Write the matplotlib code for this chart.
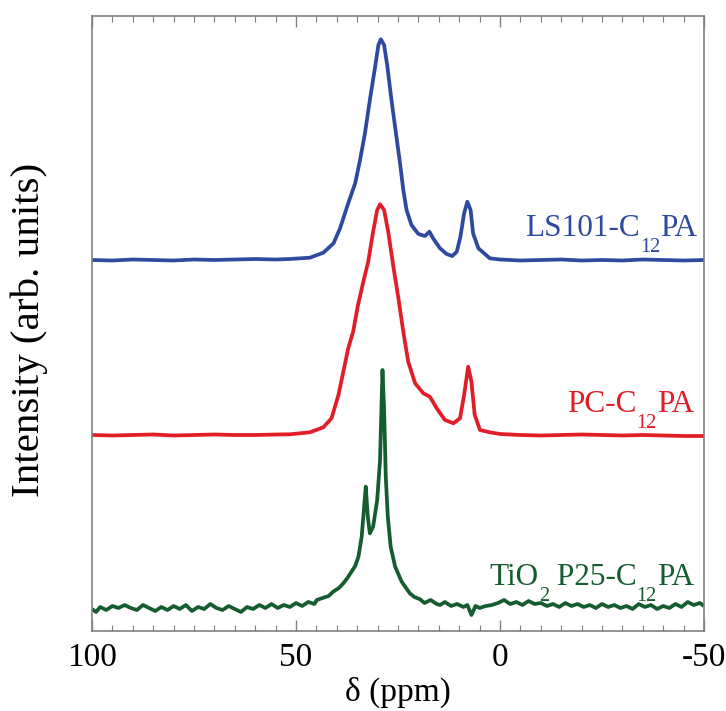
import matplotlib
matplotlib.use("Agg")
import matplotlib.pyplot as plt
from matplotlib.ticker import MultipleLocator
from matplotlib.transforms import IdentityTransform

plt.rcParams['font.family'] = ['Liberation Serif', 'DejaVu Serif']
plt.rcParams['axes.unicode_minus'] = False

# ---- data (chemical shift in ppm, intensity in arb. units) ----
blue_delta = [100, 95, 90, 85, 80, 75, 70, 65, 60, 55, 51.5, 46.6, 43.3, 40.8, 39.2, 37.2,
              35.5, 34.3, 33.1, 31.9, 30.6, 29.8, 29.2, 28.4, 27.6, 26.6, 25.5, 24.5, 23.7,
              22.9, 21.7, 20.0, 18.4, 17.3, 16.4, 14.7, 13.1, 11.7, 10.6, 9.7, 8.8, 8.0, 7.2,
              6.6, 5.3, 2.5, 0, -5, -10, -15, -20, -25, -30, -35, -40, -45, -50]
blue_int = [0, -0.5, 0.5, 0, -0.5, 0.5, 0, 0.5, 1, 0.5, 1, 2.3, 7.3, 16.7, 31.7, 56.7,
            76.7, 100, 126.7, 160, 193.3, 215, 220.7, 215, 193.3, 160, 126.7, 96.7, 70,
            50, 35, 26, 24, 28.3, 21.7, 11.7, 6, 4, 8.3, 23.3, 46.7, 58.3, 50,
            26.7, 11.7, 1.7, 0.5, -0.5, 0, 0.5, -0.5, 0, -0.5, 0.5, 0, -0.5, 0]

red_delta = [100, 95, 90, 85, 80, 75, 70, 65, 60, 55, 51.5, 46.6, 43.3, 41.3, 39.6, 38.4,
             37.2, 36.0, 34.8, 33.5, 32.3, 31.1, 30.1, 29.4, 28.4, 27.4, 26.2, 24.9, 23.7,
             22.5, 20.8, 18.8, 17.2, 15.5, 13.5, 11.4, 9.8, 8.8, 7.8, 7.0, 6.2, 4.9, 2.5,
             0, -5, -10, -15, -20, -25, -30, -35, -40, -45, -50]
red_int = [0, -0.5, 0, 0.5, -0.5, 0, 0.5, 0, 0, 0.5, 0.7, 2.7, 7.7, 16.7, 40, 63.3,
           86.7, 103.3, 130, 153.3, 173.3, 203.3, 225, 230.7, 225, 203.3, 170, 136.7, 103.3,
           73.3, 51.7, 41.7, 38.3, 26.7, 15, 11.7, 16.7, 40, 68.3, 53.3, 20, 5, 2.7,
           1, 0, -0.5, 0, 0.5, 0, -0.5, 0, -0.5, -1, -1]

green_delta = [100, 99, 98, 96.5, 95, 93.5, 92, 90.5, 89, 87.5, 86, 84.5, 83, 81.5, 80, 78.5,
               77, 75.5, 74, 72.5, 71, 69.5, 68, 66.5, 65, 63.5, 62, 60.5, 59, 57.5, 56, 54.5,
               53, 51.5, 50, 48.5, 47, 45.5, 44.9, 43.5, 42, 40.9, 39.5, 38.4, 37.4, 36.4,
               35.5, 34.7, 33.9, 33.3, 32.9, 32.4, 31.9, 31.1, 30.1, 29.4, 29.0, 28.8, 28.4,
               28.0, 27.5, 26.8, 25.7, 24.1, 22.1, 21, 19.6, 18.5, 17, 15.5, 14.7, 13.5, 12,
               10.5, 9, 8, 7, 6, 5, 3.5, 2, 0.5, -1, -2.5, -4, -5.5, -7, -8.5, -10, -11.5,
               -13, -14.5, -16, -17.5, -19, -20.5, -22, -23.5, -25, -26.5, -28, -29.5, -31,
               -32.5, -34, -35.5, -37, -38.5, -40, -41.5, -43, -44.5, -46, -47.5, -49, -50]
green_int = [-1, -4, 1, -2, 2, 0, 3, 0, -2, 3, 0, -3, 1, -2, 2, -1,
             3, -3, 1, -1, 4, 0, -2, 2, -1, -4, 1, -1, 3, 0, 4, 0,
             3, 1, 5, 2, 6, 4, 8, 10, 12, 16.3, 20, 24.7, 30, 36.3,
             42, 51.3, 71.3, 101.3, 121.3, 91.3, 74.7, 81.3, 108, 148, 208, 238, 198,
             131.3, 91.3, 61.3, 41.3, 26.3, 14.7, 11, 8.7, 5, 8, 4, 3, 6, 2,
             4, 1, 3, -7, 2, 0, 2, 3, 5, 8, 4, 6, 3, 7, 4, 5, 2,
             4, 1, 5, 2, 4, 1, 3, 0, 4, 1, 3, 0, 2,
             -1, 4, 1, 3, -1, 2, 0, 4, 1, 6, 3, 5, 2]

# label pieces: (text, is_subscript)
label_blue = [('LS101-C', False), ('12', True), ('PA', False)]
label_red = [('PC-C', False), ('12', True), ('PA', False)]
label_green = [('TiO', False), ('2', True), (' P25-C', False), ('12', True), ('PA', False)]

offsets = [348, 173, 0]
colors = ['#2D4A9E', '#E01E28', '#155C2E']

fig = plt.figure(figsize=(7.26, 7.11), dpi=100)
ax = fig.add_axes([92/726, 1 - 631/711, (704 - 92)/726, (631 - 16)/711])

series = [(blue_delta, blue_int), (red_delta, red_int), (green_delta, green_int)]
for (d, y), off, c in zip(series, offsets, colors):
    ax.plot(d, [v + off for v in y], color=c, lw=2.7, solid_joinstyle='round',
            solid_capstyle='butt')

ax.set_xlim(100, -50)
ax.set_ylim(-23, 592)
ax.set_yticks([])
ax.xaxis.set_major_locator(MultipleLocator(50))
ax.xaxis.set_minor_locator(MultipleLocator(5))
ax.tick_params(axis='x', which='both', direction='in', top=True, bottom=True,
               color='#808080', labelsize=24, pad=8)
ax.tick_params(axis='x', which='major', length=8, width=1.0)
ax.tick_params(axis='x', which='minor', length=4.5, width=0.8)
for s in ax.spines.values():
    s.set_color('#808080')
    s.set_linewidth(1.2)

ax.set_xlabel('δ (ppm)', fontsize=24, labelpad=3)
ax.set_ylabel('Intensity (arb. units)', fontsize=29.5)
ax.yaxis.set_label_coords(-0.072, 0.49)

MAIN_FS = 22.5
SUB_FS = 14.5
SUB_DROP_PX = 16.0

fig.canvas.draw()
renderer = fig.canvas.get_renderer()


def draw_label(pieces, x_right, y_base, color):
    """Lay out text pieces right-to-left (pixel coords) with low subscripts."""
    xr, yb = ax.transData.transform((x_right, y_base))
    for txt, sub in reversed(pieces):
        fs = SUB_FS if sub else MAIN_FS
        y = yb - (SUB_DROP_PX if sub else 0.0)
        t = fig.text(0, 0, txt, color=color, fontsize=fs, ha='left', va='baseline',
                     transform=IdentityTransform())
        w = t.get_window_extent(renderer).width
        xr -= w
        t.set_position((xr, y))


draw_label(label_blue, -48.3, 348 + 24, colors[0])
draw_label(label_red, -47.5, 173 + 23, colors[1])
draw_label(label_green, -47.5, 0 + 23, colors[2])

fig.savefig('out.png', dpi=100)
